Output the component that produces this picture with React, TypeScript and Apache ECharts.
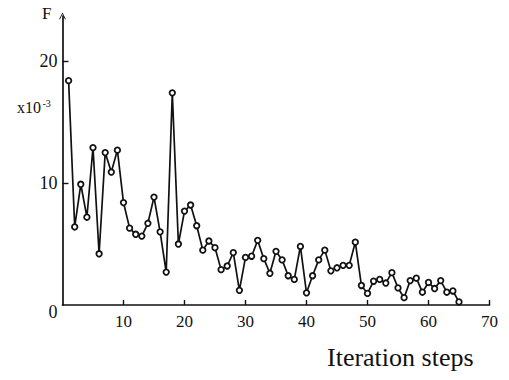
import React, { useEffect, useRef } from "react";
import * as echarts from "echarts";

const steps: number[] = [
  1, 2, 3, 4, 5, 6, 7, 8, 9, 10, 11, 12, 13, 14, 15, 16, 17, 18, 19, 20,
  21, 22, 23, 24, 25, 26, 27, 28, 29, 30, 31, 32, 33, 34, 35, 36, 37, 38, 39, 40,
  41, 42, 43, 44, 45, 46, 47, 48, 49, 50, 51, 52, 53, 54, 55, 56, 57, 58, 59, 60,
  61, 62, 63, 64, 65,
];

const fValues: number[] = [
  18.4, 6.4, 9.9, 7.2, 12.9, 4.2, 12.5, 10.9, 12.7, 8.4,
  6.3, 5.8, 5.65, 6.7, 8.85, 6.0, 2.7, 17.4, 5.0, 7.7,
  8.2, 6.5, 4.5, 5.25, 4.7, 2.9, 3.2, 4.3, 1.2, 3.9,
  4.0, 5.3, 3.8, 2.6, 4.4, 3.7, 2.4, 2.1, 4.8, 1.0,
  2.4, 3.7, 4.5, 2.8, 3.05, 3.25, 3.25, 5.15, 1.6, 0.95,
  1.95, 2.1, 1.8, 2.65, 1.4, 0.6, 2.0, 2.2, 1.05, 1.85,
  1.35, 2.0, 1.05, 1.15, 0.25,
];

const xTicks: number[] = [10, 20, 30, 40, 50, 60, 70];
const yTicks: number[] = [0, 10, 20];

const FONT = "'Liberation Serif', 'Times New Roman', serif";
const INK = "#111";

export default function App() {
  const ref = useRef<HTMLDivElement>(null);

  useEffect(() => {
    if (!ref.current) return;
    const chart = echarts.init(ref.current, undefined, { renderer: "svg" });
    const arrow = "path://M0,10 L5,0 L10,10 L8.8,10.6 L5,2.4 L1.2,10.6 Z";
    chart.setOption({
      animation: false,
      backgroundColor: "#fff",
      grid: { left: 62.5, right: 19.5, top: 16, bottom: 75, containLabel: false },
      xAxis: {
        type: "value",
        min: 0,
        max: 70,
        interval: 10,
        splitLine: { show: false },
        axisLine: { show: true, onZero: false, lineStyle: { color: INK, width: 1.7 } },
        axisTick: { show: true, inside: true, length: 5, customValues: xTicks, lineStyle: { color: INK, width: 1.4 } },
        axisLabel: {
          customValues: xTicks,
          margin: 8,
          fontSize: 17,
          fontFamily: FONT,
          color: INK,
        },
      },
      yAxis: {
        type: "value",
        min: 0,
        max: 23.7,
        interval: 10,
        splitLine: { show: false },
        axisLine: {
          show: true,
          onZero: false,
          symbol: ["none", arrow],
          symbolSize: [7, 7],
          lineStyle: { color: INK, width: 1.7 },
        },
        axisTick: { show: true, inside: true, length: 6, customValues: [10, 20], lineStyle: { color: INK, width: 1.4 } },
        axisLabel: {
          customValues: yTicks,
          margin: 5,
          fontSize: 18,
          fontFamily: FONT,
          color: INK,
          formatter: (v: number) => (v === 0 ? "{z|0}" : String(v)),
          rich: {
            z: { fontSize: 18, fontFamily: FONT, color: INK, padding: [13, 0, 0, 0] },
          },
        },
      },
      graphic: [
        {
          type: "text",
          left: 42,
          top: 5,
          style: { text: "F", font: `17px ${FONT}`, fill: INK },
        },
        {
          type: "text",
          left: 17,
          top: 99,
          style: { text: "x10", font: `16px ${FONT}`, fill: INK },
        },
        {
          type: "text",
          left: 42.5,
          top: 98,
          style: { text: "-3", font: `10px ${FONT}`, fill: INK },
        },
        {
          type: "text",
          left: 327,
          top: 344,
          style: { text: "Iteration steps", font: `26px ${FONT}`, fill: INK },
        },
      ],
      series: [
        {
          type: "line",
          data: steps.map((s, i) => [s, fValues[i]]),
          symbol: "circle",
          symbolSize: 5.5,
          showAllSymbol: true,
          lineStyle: { color: INK, width: 1.7 },
          itemStyle: { color: "#fff", borderColor: INK, borderWidth: 1.8 },
          z: 3,
        },
      ],
    });
    return () => chart.dispose();
  }, []);

  return (
    <div
      ref={ref}
      style={{ position: "fixed", left: 0, top: 0, width: 509, height: 380, background: "#fff" }}
    />
  );
}
